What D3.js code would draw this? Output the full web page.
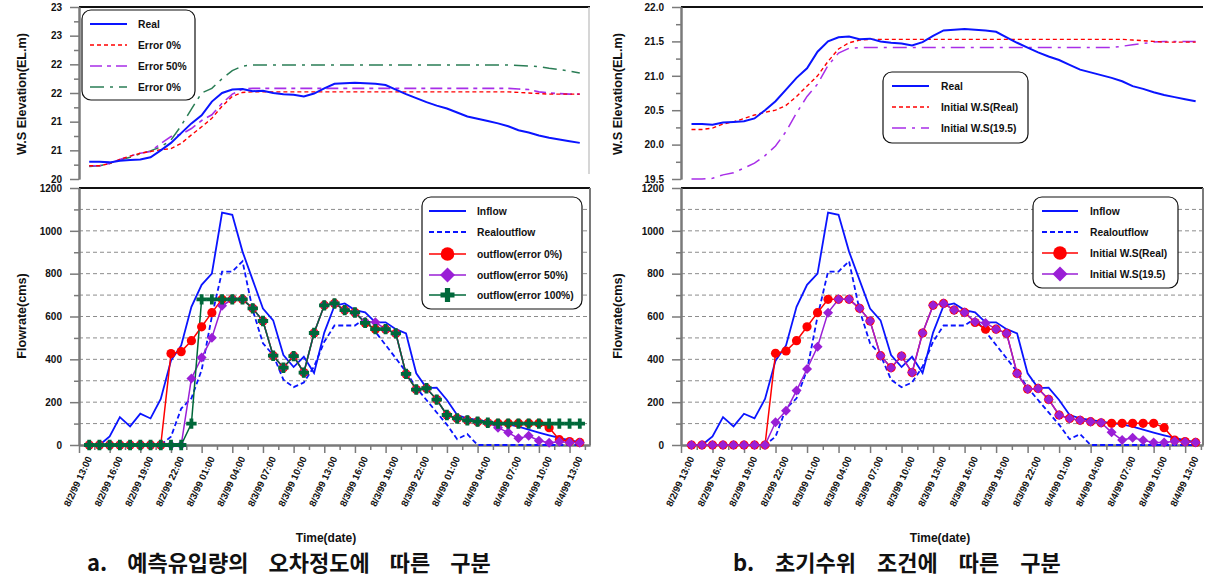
<!DOCTYPE html>
<html><head><meta charset="utf-8">
<script src="https://cdn.jsdelivr.net/npm/d3@7"></script>
<style>
body{margin:0;background:#fff;}
svg text{font-family:"Liberation Sans",Arial,sans-serif;font-weight:bold;}
</style>
</head><body>
<svg id="chart" width="1206" height="579"></svg>
<script>
// ---------------- DATA ----------------
const hours = d3.range(49); // hourly, 8/2/99 13:00 .. 8/4/99 13:00
const xTickHours = [0,3,6,9,12,15,18,21,24,27,30,33,36,39,42,45,48];
const xTickLabels = ["8/2/99 13:00","8/2/99 16:00","8/2/99 19:00","8/2/99 22:00","8/3/99 01:00","8/3/99 04:00",
  "8/3/99 07:00","8/3/99 10:00","8/3/99 13:00","8/3/99 16:00","8/3/99 19:00","8/3/99 22:00","8/4/99 01:00",
  "8/4/99 04:00","8/4/99 07:00","8/4/99 10:00","8/4/99 13:00"];

const elevTicksA = [20,20.5,21,21.5,22,22.5,23];
const elevTickLabelsA = ["20","21","21","22","22","23","23"];
const elevMinorA = [20.25,20.75,21.25,21.75,22.25,22.75];
const elevTicksB = [19.5,20,20.5,21,21.5,22];
const elevTickLabelsB = ["19.5","20.0","20.5","21.0","21.5","22.0"];
const elevMinorB = [19.75,20.25,20.75,21.25,21.75];
const flowTicks = [0,200,400,600,800,1000,1200];
const flowMinor = [100,300,500,700,900,1100];
const flowGrid = [100,200,300,400,500,600,700,800,900,1000,1100];

// flow (cms)
const inflow = [0,0,40,130,87,146,124,215,394,465, 645,748,800,1085,1075,903,770,637,582,420,
  364,412,336,525,650,661,630,619,573,573, 541,521,335,266,268,210,140,124,117,109,
  102,96,86,72,58,45,33,22,14];
const realOutflow = [0,0,0,0,0,0,0,0,39,170, 218,350,600,810,810,858,630,475,420,305,
  270,292,366,482,558,558,558,590,529,467, 405,342,268,210,152,95,27,51,0,0,
  0,0,0,0,0,0,0,0,0];
const outErr0 = [0,0,0,0,0,0,0,0,427,436, 487,552,618,680,680,680,638,579,417,361,
  415,338,523,652,661,630,619,570,541,541, 521,332,259,265,212,140,124,115,109,104,
  101,101,101,101,101,81,25,16,12];
const outErr50 = [0,0,0,0,0,0,0,0,0,0, 311,408,501,650,680,680,638,579,417,361,
  415,338,523,652,661,630,619,575,573,541, 521,332,259,265,212,140,124,115,109,104,
  81,58,31,43,20,11,15,12,10];
const outErr100 = [0,0,0,0,0,0,0,0,0,0, 100,680,680,680,680,680,638,579,417,361,
  415,338,523,652,661,630,619,570,541,541, 521,332,259,265,212,140,124,115,109,104,
  100,100,100,100,100,100,100,100,100];
const outInitReal = [0,0,0,0,0,0,0,0,428,439, 487,552,618,680,680,680,638,579,417,361,
  415,338,523,652,661,630,619,572,541,541, 521,334,261,264,213,140,124,115,109,104,
  101,101,101,101,101,81,23,16,12];
const outInit195 = [0,0,0,0,0,0,0,0,106,160, 254,355,459,618,680,680,638,579,417,361,
  415,338,523,652,661,630,619,575,570,541, 521,334,261,264,213,140,124,115,109,104,
  59,23,34,22,12,12,18,14,12];

// water surface elevation (EL.m)
const elevReal = [20.30,20.30,20.29,20.32,20.33,20.34,20.38,20.50,20.63,20.80,
  20.97,21.11,21.35,21.50,21.56,21.57,21.53,21.54,21.50,21.48,
  21.47,21.44,21.49,21.58,21.66,21.67,21.68,21.67,21.66,21.64,
  21.56,21.48,21.41,21.34,21.28,21.23,21.16,21.09,21.05,21.01,
  20.97,20.92,20.85,20.81,20.76,20.72,20.69,20.66,20.63];
const elevErr0 = [20.23,20.23,20.27,20.34,20.40,20.45,20.48,20.51,20.53,20.62,
  20.77,20.91,21.06,21.27,21.44,21.51,21.52,21.52,21.52,21.52,
  21.52,21.52,21.52,21.52,21.52,21.52,21.52,21.52,21.52,21.52,
  21.52,21.52,21.52,21.52,21.52,21.52,21.52,21.52,21.52,21.52,
  21.52,21.52,21.51,21.50,21.49,21.48,21.48,21.48,21.48];
const elevErr50 = [20.23,20.23,20.27,20.34,20.40,20.45,20.48,20.62,20.74,20.78,
  20.88,21.02,21.12,21.32,21.48,21.57,21.58,21.58,21.58,21.58,
  21.58,21.58,21.58,21.58,21.58,21.58,21.58,21.58,21.58,21.58,
  21.58,21.58,21.58,21.58,21.58,21.58,21.58,21.58,21.58,21.58,
  21.58,21.58,21.57,21.56,21.52,21.50,21.49,21.48,21.48];
const elevErr100 = [20.22,20.23,20.27,20.33,20.38,20.44,20.49,20.56,20.68,20.93,
  21.22,21.50,21.58,21.75,21.89,21.97,21.99,21.99,21.99,21.99,
  21.99,21.99,21.99,21.99,21.99,21.99,21.99,21.99,21.99,21.99,
  21.99,21.99,21.99,21.99,21.99,21.99,21.99,21.99,21.99,21.99,
  21.99,21.99,21.98,21.97,21.96,21.93,21.91,21.88,21.85];
const elevInitReal = [20.22,20.22,20.24,20.30,20.33,20.38,20.43,20.47,20.50,20.57,
  20.70,20.85,21.00,21.21,21.39,21.48,21.52,21.53,21.53,21.53,
  21.53,21.53,21.53,21.53,21.53,21.53,21.53,21.53,21.53,21.53,
  21.53,21.53,21.53,21.53,21.53,21.53,21.53,21.53,21.53,21.53,
  21.53,21.53,21.52,21.51,21.50,21.49,21.49,21.49,21.49];
const elevInit195 = [19.50,19.50,19.51,19.56,19.59,19.66,19.73,19.84,19.98,20.19,
  20.46,20.70,20.88,21.15,21.33,21.40,21.41,21.41,21.41,21.41,
  21.41,21.41,21.41,21.41,21.41,21.41,21.41,21.41,21.41,21.41,
  21.41,21.41,21.41,21.41,21.41,21.41,21.41,21.41,21.41,21.41,
  21.41,21.43,21.45,21.47,21.49,21.50,21.50,21.50,21.50];

// ---------------- STYLES ----------------
const BLUE = "#0a14ff", RED = "#ff0000", PURPLE = "#9a1fd6", PURPLE_T = "#a82ee8", GREEN = "#00683a", GREEN_T = "#2a7d55";
const AXIS = "#7a7a7a";

const svg = d3.select("#chart");

function diamondPath(s){ return `M0,${-s}L${s},0L0,${s}L${-s},0Z`; }
function plusPath(a,t){
  return `M${-t},${-a}H${t}V${-t}H${a}V${t}H${t}V${a}H${-t}V${t}H${-a}V${-t}H${-t}Z`;
}
function drawMarker(sel, type, cx, cy, big){
  if(type==="circle"){
    sel.append("circle").attr("cx",cx).attr("cy",cy).attr("r", big?6.8:4.6).attr("fill",RED);
  } else if(type==="diamond"){
    sel.append("path").attr("d",diamondPath(big?7.5:5)).attr("transform",`translate(${cx},${cy})`).attr("fill",PURPLE);
  } else if(type==="plus"){
    sel.append("path").attr("d",plusPath(big?7:5.2, big?2.6:1.9)).attr("transform",`translate(${cx},${cy})`).attr("fill",GREEN);
  }
}

function styleAxis(g){
  g.select(".domain").attr("stroke",AXIS).attr("stroke-width",2);
  g.selectAll(".tick line").attr("stroke",AXIS).attr("stroke-width",1.5);
  g.selectAll(".tick text").attr("font-size","10px").attr("font-weight","bold").attr("fill","#111");
}

function legendBox(g, L){
  g.append("rect").attr("x",L.box[0]).attr("y",L.box[1]).attr("width",L.box[2]).attr("height",L.box[3])
    .attr("rx",9).attr("ry",9).attr("fill","#fff").attr("stroke","#111").attr("stroke-width",1.2);
  L.items.forEach((it,i)=>{
    const y = L.rows[i];
    g.append("line").attr("x1",L.lineX[0]).attr("x2",L.lineX[1]).attr("y1",y).attr("y2",y)
      .attr("stroke",it.stroke).attr("stroke-width",it.width).attr("stroke-dasharray",it.dash||null);
    if(it.marker) drawMarker(g, it.marker, (L.lineX[0]+L.lineX[1])/2, y, true);
    g.append("text").attr("x",L.textX).attr("y",y).attr("dy","0.35em").attr("font-size","10.3px").attr("fill","#111").text(it.label);
  });
}

function drawPanel(p){
  const g = svg.append("g");
  const x = d3.scaleLinear().domain(p.xDomain).range(p.xRange);
  const yE = d3.scaleLinear().domain(p.elevDomain).range([179,7]);
  const yF = d3.scaleLinear().domain([0,1200]).range([445,188]);
  const [xa,xb] = p.xRange;

  // ---- top panel ----
  g.append("line").attr("x1",xa).attr("x2",xb).attr("y1",7).attr("y2",7).attr("stroke","#111").attr("stroke-width",2);
  if(p.topRightBorder) g.append("line").attr("x1",xb-1).attr("x2",xb-1).attr("y1",7).attr("y2",174).attr("stroke","#c8c8c8").attr("stroke-width",1.5);

  const eMinor = g.append("g").attr("transform",`translate(${xa},0)`)
    .call(d3.axisLeft(yE).tickValues(p.elevMinor).tickFormat("").tickSize(5).tickSizeOuter(0));
  styleAxis(eMinor);
  const eMajor = g.append("g").attr("transform",`translate(${xa},0)`)
    .call(d3.axisLeft(yE).tickValues(p.elevTicks).tickFormat((d,i)=>p.elevTickLabels[i]).tickSize(9).tickSizeOuter(0).tickPadding(8));
  styleAxis(eMajor);

  const lineE = d3.line().x((d,i)=>x(hours[i])).y(d=>yE(d));
  p.elevSeries.forEach(s=>{
    g.append("path").datum(s.values).attr("d",lineE).attr("fill","none")
      .attr("stroke",s.stroke).attr("stroke-width",s.width).attr("stroke-dasharray",s.dash||null);
  });
  legendBox(g, p.topLegend);

  // ---- bottom panel ----
  g.selectAll(null).data(flowGrid).join("line")
    .attr("x1",xa).attr("x2",xb).attr("y1",d=>yF(d)).attr("y2",d=>yF(d))
    .attr("stroke","#8c8c8c").attr("stroke-width",1).attr("stroke-dasharray","4,3");
  g.append("line").attr("x1",xa).attr("x2",xb).attr("y1",yF(1200)).attr("y2",yF(1200)).attr("stroke","#111").attr("stroke-width",2);
  g.append("line").attr("x1",xb).attr("x2",xb).attr("y1",yF(1200)).attr("y2",yF(0)).attr("stroke",AXIS).attr("stroke-width",2);

  const fMinor = g.append("g").attr("transform",`translate(${xa},0)`)
    .call(d3.axisLeft(yF).tickValues(flowMinor).tickFormat("").tickSize(5).tickSizeOuter(0));
  styleAxis(fMinor);
  const fMajor = g.append("g").attr("transform",`translate(${xa},0)`)
    .call(d3.axisLeft(yF).tickValues(flowTicks).tickFormat(d3.format("d")).tickSize(9).tickSizeOuter(0).tickPadding(8));
  styleAxis(fMajor);

  const xMajorT = d3.range(p.xDomain[0], p.xDomain[1]+0.01, 3);
  const xMinorT = d3.range(p.xDomain[0]+1.5, p.xDomain[1]+0.01, 3);
  const xMin = g.append("g").attr("transform",`translate(0,${yF(0)})`)
    .call(d3.axisBottom(x).tickValues(xMinorT).tickFormat("").tickSize(5).tickSizeOuter(0));
  styleAxis(xMin);
  const xMaj = g.append("g").attr("transform",`translate(0,${yF(0)})`)
    .call(d3.axisBottom(x).tickValues(xMajorT).tickFormat("").tickSize(8).tickSizeOuter(0));
  styleAxis(xMaj);

  g.selectAll(null).data(xTickHours).join("text")
    .attr("transform",(d)=>`translate(${x(d)},${457}) rotate(-65)`)
    .attr("text-anchor","end").attr("dy","0.35em").attr("font-size","9.6px").attr("fill","#111")
    .text((d,i)=>xTickLabels[i]);

  const lineF = d3.line().x((d,i)=>x(hours[i])).y(d=>yF(d));
  p.flowLines.forEach(s=>{
    g.append("path").datum(s.values).attr("d",lineF).attr("fill","none")
      .attr("stroke",s.stroke).attr("stroke-width",s.width).attr("stroke-dasharray",s.dash||null);
  });
  p.flowMarked.forEach(s=>{
    g.append("path").datum(s.values).attr("d",lineF).attr("fill","none")
      .attr("stroke",s.stroke).attr("stroke-width",1.5);
  });
  p.flowMarked.forEach(s=>{
    const mg = g.append("g");
    s.values.forEach((v,i)=>drawMarker(mg, s.marker, x(hours[i]), yF(v), false));
  });
  legendBox(g, p.bottomLegend);

  // titles
  g.append("text").attr("transform",`translate(${p.titleX},94) rotate(-90)`).attr("text-anchor","middle")
    .attr("dy","0.35em").attr("font-size","12.6px").attr("fill","#111").text("W.S Elevation(EL.m)");
  g.append("text").attr("transform",`translate(${p.titleX},316) rotate(-90)`).attr("text-anchor","middle")
    .attr("dy","0.35em").attr("font-size","12.6px").attr("fill","#111").text("Flowrate(cms)");
  g.append("text").attr("x",p.timeX).attr("y",542).attr("text-anchor","middle")
    .attr("font-size","12px").attr("fill","#111").text("Time(date)");
  g.append("text").attr("x",p.captionX).attr("y",571)
    .style("font-family",'"Noto Sans CJK KR","Noto Sans CJK SC",sans-serif').attr("font-weight","bold")
    .attr("font-size","22px").attr("word-spacing",p.captionSpacing).attr("fill","#111").text(p.caption);
}

// ---------------- PANEL a ----------------
drawPanel({
  xDomain:[-1,49], xRange:[79,590],
  elevDomain:[20,23], elevTicks:elevTicksA, elevTickLabels:elevTickLabelsA, elevMinor:elevMinorA,
  topRightBorder:true,
  elevSeries:[
    {values:elevErr100, stroke:GREEN_T, width:1.5, dash:"14,6,3,6"},
    {values:elevErr50, stroke:PURPLE_T, width:1.6, dash:"12,5,4,5"},
    {values:elevErr0, stroke:RED, width:1.4, dash:"4,3"},
    {values:elevReal, stroke:BLUE, width:2}
  ],
  topLegend:{box:[82,10,113,90], rows:[24,45,66,87], lineX:[90,127], textX:138, items:[
    {label:"Real", stroke:BLUE, width:2},
    {label:"Error 0%", stroke:RED, width:1.4, dash:"4,3"},
    {label:"Error 50%", stroke:PURPLE_T, width:1.6, dash:"12,5,4,5"},
    {label:"Error 0%", stroke:GREEN_T, width:1.5, dash:"14,6,3,6"}
  ]},
  flowLines:[
    {values:inflow, stroke:BLUE, width:1.8},
    {values:realOutflow, stroke:BLUE, width:1.8, dash:"5,3"}
  ],
  flowMarked:[
    {values:outErr0, stroke:RED, marker:"circle"},
    {values:outErr50, stroke:PURPLE, marker:"diamond"},
    {values:outErr100, stroke:GREEN, marker:"plus"}
  ],
  bottomLegend:{box:[422,197,160,112], rows:[211,232,254,275,295], lineX:[429,466], textX:477, items:[
    {label:"Inflow", stroke:BLUE, width:1.8},
    {label:"Realoutflow", stroke:BLUE, width:1.8, dash:"5,3"},
    {label:"outflow(error 0%)", stroke:RED, width:1.5, marker:"circle"},
    {label:"outflow(error 50%)", stroke:PURPLE, width:1.5, marker:"diamond"},
    {label:"outflow(error 100%)", stroke:GREEN, width:1.5, marker:"plus"}
  ]},
  titleX:22, timeX:326, captionX:87, captionSpacing:"15px",
  caption:"a. 예측유입량의 오차정도에 따른 구분"
});

// ---------------- PANEL b ----------------
drawPanel({
  xDomain:[-1,48.7], xRange:[681,1203],
  elevDomain:[19.5,22], elevTicks:elevTicksB, elevTickLabels:elevTickLabelsB, elevMinor:elevMinorB,
  topRightBorder:false,
  elevSeries:[
    {values:elevInit195, stroke:PURPLE_T, width:1.5, dash:"14,6,3,6"},
    {values:elevInitReal, stroke:RED, width:1.4, dash:"4,3"},
    {values:elevReal, stroke:BLUE, width:2}
  ],
  topLegend:{box:[883,72,145,71], rows:[86,107,128], lineX:[892,929], textX:941, items:[
    {label:"Real", stroke:BLUE, width:2},
    {label:"Initial W.S(Real)", stroke:RED, width:1.4, dash:"4,3"},
    {label:"Initial W.S(19.5)", stroke:PURPLE_T, width:1.5, dash:"14,6,3,6"}
  ]},
  flowLines:[
    {values:inflow, stroke:BLUE, width:1.8},
    {values:realOutflow, stroke:BLUE, width:1.8, dash:"5,3"}
  ],
  flowMarked:[
    {values:outInitReal, stroke:RED, marker:"circle"},
    {values:outInit195, stroke:PURPLE, marker:"diamond"}
  ],
  bottomLegend:{box:[1033,197,145,91], rows:[211,232,253,274], lineX:[1042,1078], textX:1090, items:[
    {label:"Inflow", stroke:BLUE, width:1.8},
    {label:"Realoutflow", stroke:BLUE, width:1.8, dash:"5,3"},
    {label:"Initial W.S(Real)", stroke:RED, width:1.5, marker:"circle"},
    {label:"Initial W.S(19.5)", stroke:PURPLE, width:1.5, marker:"diamond"}
  ]},
  titleX:618, timeX:940, captionX:733, captionSpacing:"16px",
  caption:"b. 초기수위 조건에 따른 구분"
});
</script>
</body></html>
